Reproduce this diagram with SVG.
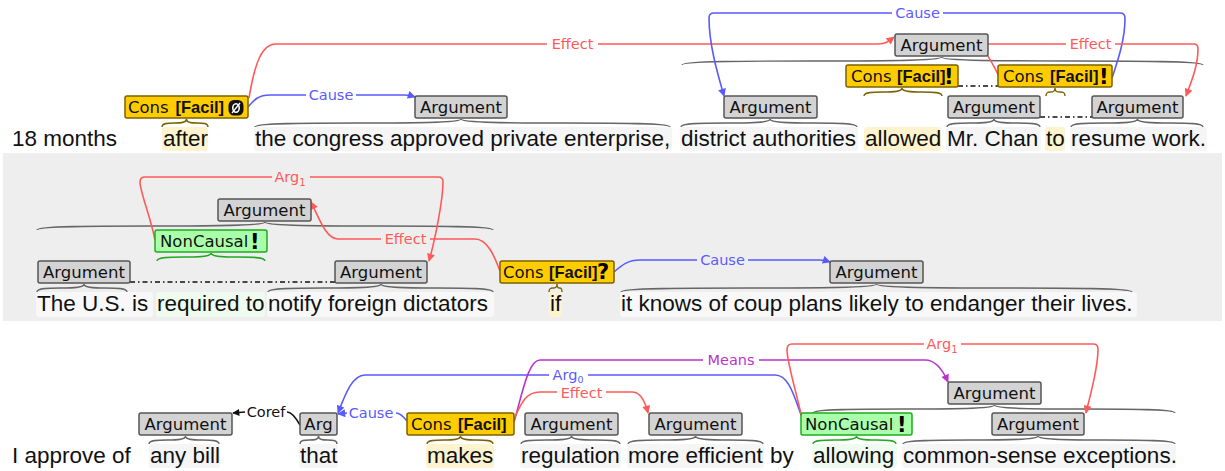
<svg xmlns="http://www.w3.org/2000/svg" width="1225" height="471" viewBox="0 0 1225 471">
<style>
.sent{font-family:"Liberation Sans",Arial,sans-serif;font-size:22.5px;fill:#111}
.lbl{font-family:"DejaVu Sans",sans-serif;font-size:16.5px;fill:#111}
.b{font-family:"Liberation Sans",Arial,sans-serif;font-weight:bold}
.ico{font-family:"DejaVu Sans",sans-serif;font-weight:bold;font-size:21px;fill:#000}
.arg{fill:#d3d3d3;stroke:#555;stroke-width:1.5}
.cons{fill:#ffcc00;stroke:#7a6200;stroke-width:1.5}
.nc{fill:#aaffaa;stroke:#1faa1f;stroke-width:1.5}
.br{fill:none;stroke:#666;stroke-width:1.4}
.brc{fill:none;stroke:#7a6200;stroke-width:1.4}
.brg{fill:none;stroke:#1faa1f;stroke-width:1.4}
.arc{fill:none;stroke-width:1.6}
.red{stroke:#ff5a5a}.blue{stroke:#5a5aff}.pur{stroke:#bb33cc}.blk{stroke:#111}
.al{font-family:"DejaVu Sans",sans-serif;font-size:14.5px;text-anchor:middle}
.dd{stroke:#111;stroke-width:1.5;stroke-dasharray:5 3 1.5 3;fill:none}
.hy{fill:#fdf3cf}.hg{fill:#eefbee}.hl{fill:#f5f5f5}.hl2{fill:#f8f8f8}
</style>
<defs>
<marker id="mr" viewBox="0 0 10 10" refX="9" refY="5" markerWidth="9" markerHeight="8" markerUnits="userSpaceOnUse" orient="auto"><path d="M0,0 L10,5 L0,10 z" fill="#ff5a5a"/></marker>
<marker id="mb" viewBox="0 0 10 10" refX="9" refY="5" markerWidth="9" markerHeight="8" markerUnits="userSpaceOnUse" orient="auto"><path d="M0,0 L10,5 L0,10 z" fill="#5a5aff"/></marker>
<marker id="mp" viewBox="0 0 10 10" refX="9" refY="5" markerWidth="9" markerHeight="8" markerUnits="userSpaceOnUse" orient="auto"><path d="M0,0 L10,5 L0,10 z" fill="#bb33cc"/></marker>
<marker id="mk" viewBox="0 0 10 10" refX="9" refY="5" markerWidth="8" markerHeight="7" markerUnits="userSpaceOnUse" orient="auto"><path d="M0,0 L10,5 L0,10 z" fill="#111"/></marker>
</defs>
<rect x="0" y="0" width="1225" height="471" fill="#fff"/>
<rect x="3" y="153" width="1219" height="168" fill="#eeeeee"/>

<g id="sentence1">
<rect class="hy" x="162" y="127" width="46" height="24" rx="3"/>
<rect class="hl" x="254" y="127" width="418" height="24" rx="3"/>
<rect class="hl" x="680" y="127" width="178" height="24" rx="3"/>
<rect class="hy" x="864" y="127" width="77" height="24" rx="3"/>
<rect class="hl" x="946" y="127" width="95" height="24" rx="3"/>
<rect class="hy" x="1045" y="127" width="20" height="24" rx="3"/>
<rect class="hl" x="1070" y="127" width="137" height="24" rx="3"/>
<text class="sent" x="12" y="146">18 months</text>
<text class="sent" x="163" y="146">after</text>
<text class="sent" x="255" y="146">the congress approved private enterprise,</text>
<text class="sent" x="681" y="146">district authorities</text>
<text class="sent" x="865" y="146">allowed</text>
<text class="sent" x="947" y="146">Mr. Chan</text>
<text class="sent" x="1046" y="146">to</text>
<text class="sent" x="1071" y="146">resume work.</text>
</g>
<g id="sentence2">
<rect class="hl2" x="36" y="292" width="117" height="25" rx="3"/>
<rect class="hg" x="156" y="292" width="109" height="25" rx="3"/>
<rect class="hl2" x="267" y="292" width="227" height="25" rx="3"/>
<rect class="hy" x="549" y="292" width="13" height="25" rx="3"/>
<rect class="hl2" x="620" y="292" width="517" height="25" rx="3"/>
<text class="sent" x="37" y="311">The U.S. is</text>
<text class="sent" x="157" y="311">required to</text>
<text class="sent" x="268" y="311">notify foreign dictators</text>
<text class="sent" x="550" y="311">if</text>
<text class="sent" x="621" y="311">it knows of coup plans likely to endanger their lives.</text>
</g>
<g id="sentence3">
<rect class="hl" x="149" y="444" width="71" height="24" rx="3"/>
<rect class="hl" x="299" y="444" width="39" height="24" rx="3"/>
<rect class="hy" x="426" y="444" width="68" height="24" rx="3"/>
<rect class="hl" x="520" y="444" width="101" height="24" rx="3"/>
<rect class="hl" x="627" y="444" width="137" height="24" rx="3"/>
<rect class="hg" x="812" y="444" width="85" height="24" rx="3"/>
<rect class="hl" x="902" y="444" width="274" height="24" rx="3"/>
<text class="sent" x="12" y="463">I approve of</text>
<text class="sent" x="150" y="463">any bill</text>
<text class="sent" x="300" y="463">that</text>
<text class="sent" x="427" y="463">makes</text>
<text class="sent" x="521" y="463">regulation</text>
<text class="sent" x="628" y="463">more efficient</text>
<text class="sent" x="770" y="463">by</text>
<text class="sent" x="813" y="463">allowing</text>
<text class="sent" x="903" y="463">common-sense exceptions.</text>
</g>

<g id="braces">
<path class="brc" d="M162,127 C162,119 186.5,127 186.5,119 C186.5,127 208,119 208,127"/>
<path class="br" d="M255,127 C255,119 461,127 461,119 C461,127 670,119 670,127"/>
<path class="br" d="M681,127 C681,119 770,127 770,119 C770,127 857,119 857,127"/>
<path class="br" d="M947,127 C947,119 994,127 994,119 C994,127 1040,119 1040,127"/>
<path class="br" d="M1071,127 C1071,119 1137.5,127 1137.5,119 C1137.5,127 1203,119 1203,127"/>
<path class="brc" d="M864,96 C864,88 902,96 902,88 C902,96 942,88 942,96"/>
<path class="brc" d="M1046,96 C1046,88 1055,96 1055,88 C1055,96 1065,88 1065,96"/>
<path class="br" d="M682,65 C682,57 941.5,65 941.5,57 C941.5,65 1203,57 1203,65"/>
<path class="br" d="M37,292 C37,284 84,292 84,284 C84,292 127,284 127,292"/>
<path class="br" d="M268,292 C268,284 381,292 381,284 C381,292 493,284 493,292"/>
<path class="brc" d="M549,292 C549,284 557,292 557,284 C557,292 562,284 562,292"/>
<path class="br" d="M621,292 C621,284 876.5,292 876.5,284 C876.5,292 1132,284 1132,292"/>
<path class="brg" d="M157,261 C157,253 211,261 211,253 C211,261 265,253 265,261"/>
<path class="br" d="M37,230 C37,222 265,230 265,222 C265,230 493,222 493,230"/>
<path class="br" d="M149,444 C149,436 185.5,444 185.5,436 C185.5,444 219,436 219,444"/>
<path class="br" d="M300,444 C300,436 318.5,444 318.5,436 C318.5,444 337,436 337,444"/>
<path class="brc" d="M427,444 C427,436 460.5,444 460.5,436 C460.5,444 493,436 493,444"/>
<path class="br" d="M521,444 C521,436 571.5,444 571.5,436 C571.5,444 620,436 620,444"/>
<path class="br" d="M628,444 C628,436 695.5,444 695.5,436 C695.5,444 763,436 763,444"/>
<path class="brg" d="M813,444 C813,436 856.5,444 856.5,436 C856.5,444 896,436 896,444"/>
<path class="br" d="M903,444 C903,436 1038,444 1038,436 C1038,444 1175,436 1175,444"/>
<path class="br" d="M813,413 C813,405 994.5,413 994.5,405 C994.5,413 1175,405 1175,413"/>
</g>

<g id="connectors">
<path class="arc red" d="M249,98 C255,62 262,44 276,44 L547,44"/>
<path class="arc red" d="M598,44 L878,44 C886,44 889,41 894,37" marker-end="url(#mr)"/>
<text class="al" x="572.5" y="49" fill="#ff5a5a">Effect</text>
<path class="arc blue" d="M248,107 C254,100 258,95 270,95 L306,95"/>
<path class="arc blue" d="M356,95 L405,95 C410,95 412,96 415,97" marker-end="url(#mb)"/>
<text class="al" x="331" y="100" fill="#5a5aff">Cause</text>
<path class="arc blue" d="M1112,78 C1118,60 1125,40 1125,18 Q1125,13 1120,13 L943,13"/>
<path class="arc blue" d="M892,13 L714,13 Q709,13 709,18 C709,45 718,75 724,96" marker-end="url(#mb)"/>
<text class="al" x="917.5" y="18" fill="#5a5aff">Cause</text>
<path class="arc red" d="M999,77 C993,62 984,52 984,48 Q984,44 988,44 L1066,44"/>
<path class="arc red" d="M1115,44 L1194,44 Q1198,44 1198,49 C1198,65 1192,80 1186,96" marker-end="url(#mr)"/>
<text class="al" x="1090.5" y="49" fill="#ff5a5a">Effect</text>
<path class="dd" d="M958,86 L998,86"/>
<path class="dd" d="M1040,117 L1092,117"/>
<path class="arc red" d="M155,240 C150,215 140,192 140,182 Q140,177 145,177 L272,177"/>
<path class="arc red" d="M310,177 L438,177 Q443,177 443,182 C443,200 435,240 429,261" marker-end="url(#mr)"/>
<text class="al" x="290" y="182" fill="#ff5a5a">Arg<tspan font-size="10" dy="4">1</tspan></text>
<path class="arc red" d="M500,271 C494,255 487,239 475,239 L430,239"/>
<path class="arc red" d="M381,239 L338,239 C326,239 319,218 311,202" marker-end="url(#mr)"/>
<text class="al" x="405.5" y="244" fill="#ff5a5a">Effect</text>
<path class="arc blue" d="M614,272 C622,265 628,260 640,260 L697,260"/>
<path class="arc blue" d="M748,260 L820,260 C825,260 827,261 830,262" marker-end="url(#mb)"/>
<text class="al" x="722.5" y="265" fill="#5a5aff">Cause</text>
<path class="dd" d="M130,282 L335,282"/>
<path class="arc blk" d="M300,425 C296,418 292,412 287,412"/>
<path class="arc blk" d="M245,412 L233,413" marker-end="url(#mk)"/>
<text class="al" x="266" y="417" fill="#111">Coref</text>
<path class="arc blue" d="M407,421 C403,416 400,413 396,413"/>
<path class="arc blue" d="M347,413 L338,414" marker-end="url(#mb)"/>
<text class="al" x="371" y="418" fill="#5a5aff">Cause</text>
<path class="arc blue" d="M802,417 C795,400 790,375 775,375 L588,375"/>
<path class="arc blue" d="M549,375 L365,375 C352,375 345,395 338,413" marker-end="url(#mb)"/>
<text class="al" x="568" y="380" fill="#5a5aff">Arg<tspan font-size="9.5" dy="3">0</tspan></text>
<path class="arc pur" d="M514,422 C522,395 528,360 540,360 L703,360"/>
<path class="arc pur" d="M759,360 L925,360 C935,360 942,368 948,382" marker-end="url(#mp)"/>
<text class="al" x="731" y="365" fill="#bb33cc">Means</text>
<path class="arc red" d="M515,417 C522,401 527,392 540,392 L557,392"/>
<path class="arc red" d="M606,392 L632,392 C640,392 645,401 648,413" marker-end="url(#mr)"/>
<text class="al" x="581.5" y="397.5" fill="#ff5a5a">Effect</text>
<path class="arc red" d="M801,414 C797,395 787,362 787,350 Q787,344 792,344 L924,344"/>
<path class="arc red" d="M961,344 L1093,344 Q1098,344 1098,349 C1098,370 1090,395 1086,413" marker-end="url(#mr)"/>
<text class="al" x="942" y="349" fill="#ff5a5a">Arg<tspan font-size="10" dy="4">1</tspan></text>
</g>

<g id="n1_cons_after"><rect class="cons" x="125" y="96" width="123" height="22" rx="2"/><text class="lbl" x="128" y="112.5">Cons<tspan class="b" x="175.5">[Facil]</tspan></text><rect x="228.5" y="100" width="15" height="15.5" rx="5.5" fill="#111"/><ellipse cx="236" cy="108" rx="3.2" ry="4.2" fill="none" stroke="#fff" stroke-width="1.6"/><path d="M232,113 L240,103" stroke="#fff" stroke-width="1.3"/></g>
<g id="n1_arg_congress"><rect class="arg" x="415" y="96" width="92" height="22" rx="2"/><text class="lbl" x="461" y="112.5" text-anchor="middle">Argument</text></g>
<g id="n1_arg_district"><rect class="arg" x="724" y="96" width="93" height="22" rx="2"/><text class="lbl" x="770.5" y="112.5" text-anchor="middle">Argument</text></g>
<g id="n1_arg_top"><rect class="arg" x="895" y="34" width="93" height="22" rx="2"/><text class="lbl" x="941.5" y="50.5" text-anchor="middle">Argument</text></g>
<g id="n1_cons_allowed"><rect class="cons" x="846" y="65" width="112" height="22" rx="2"/><text class="lbl" x="851" y="81.5">Cons<tspan class="b" x="897">[Facil]</tspan></text><text class="ico" x="944" y="84">!</text></g>
<g id="n1_cons_to"><rect class="cons" x="998" y="65" width="114" height="22" rx="2"/><text class="lbl" x="1003" y="81.5">Cons<tspan class="b" x="1050">[Facil]</tspan></text><text class="ico" x="1099" y="84">!</text></g>
<g id="n1_arg_chan"><rect class="arg" x="948" y="96" width="92" height="22" rx="2"/><text class="lbl" x="994" y="112.5" text-anchor="middle">Argument</text></g>
<g id="n1_arg_resume"><rect class="arg" x="1092" y="96" width="91" height="22" rx="2"/><text class="lbl" x="1137.5" y="112.5" text-anchor="middle">Argument</text></g>

<g id="n2_arg_us"><rect class="arg" x="38" y="261" width="92" height="22" rx="2"/><text class="lbl" x="84" y="277.5" text-anchor="middle">Argument</text></g>
<g id="n2_arg_top"><rect class="arg" x="218" y="199" width="93" height="22" rx="2"/><text class="lbl" x="264.5" y="215.5" text-anchor="middle">Argument</text></g>
<g id="n2_noncausal"><rect class="nc" x="155" y="230" width="112" height="22" rx="2"/><text class="lbl" x="160" y="246.5">NonCausal</text><text class="ico" x="250" y="249">!</text></g>
<g id="n2_arg_notify"><rect class="arg" x="335" y="261" width="92" height="22" rx="2"/><text class="lbl" x="381" y="277.5" text-anchor="middle">Argument</text></g>
<g id="n2_cons_if"><rect class="cons" x="500" y="261" width="114" height="22" rx="2"/><text class="lbl" x="503" y="277.5">Cons<tspan class="b" x="549">[Facil]</tspan></text><text class="ico" x="597" y="279" font-size="19">?</text></g>
<g id="n2_arg_knows"><rect class="arg" x="830" y="261" width="93" height="22" rx="2"/><text class="lbl" x="876.5" y="277.5" text-anchor="middle">Argument</text></g>

<g id="n3_arg_bill"><rect class="arg" x="139" y="413" width="93" height="22" rx="2"/><text class="lbl" x="185.5" y="429.5" text-anchor="middle">Argument</text></g>
<g id="n3_arg_that"><rect class="arg" x="300" y="413" width="37" height="22" rx="2"/><text class="lbl" x="318.5" y="429.5" text-anchor="middle">Arg</text></g>
<g id="n3_cons_makes"><rect class="cons" x="407" y="413" width="107" height="22" rx="2"/><text class="lbl" x="411" y="429.5">Cons<tspan class="b" x="458">[Facil]</tspan></text></g>
<g id="n3_arg_regulation"><rect class="arg" x="525" y="413" width="93" height="22" rx="2"/><text class="lbl" x="571.5" y="429.5" text-anchor="middle">Argument</text></g>
<g id="n3_arg_efficient"><rect class="arg" x="649" y="413" width="93" height="22" rx="2"/><text class="lbl" x="695.5" y="429.5" text-anchor="middle">Argument</text></g>
<g id="n3_noncausal"><rect class="nc" x="801" y="413" width="111" height="22" rx="2"/><text class="lbl" x="805" y="429.5">NonCausal</text><text class="ico" x="897" y="432">!</text></g>
<g id="n3_arg_top"><rect class="arg" x="948" y="382" width="93" height="22" rx="2"/><text class="lbl" x="994.5" y="398.5" text-anchor="middle">Argument</text></g>
<g id="n3_arg_common"><rect class="arg" x="992" y="413" width="92" height="22" rx="2"/><text class="lbl" x="1038" y="429.5" text-anchor="middle">Argument</text></g>
</svg>
